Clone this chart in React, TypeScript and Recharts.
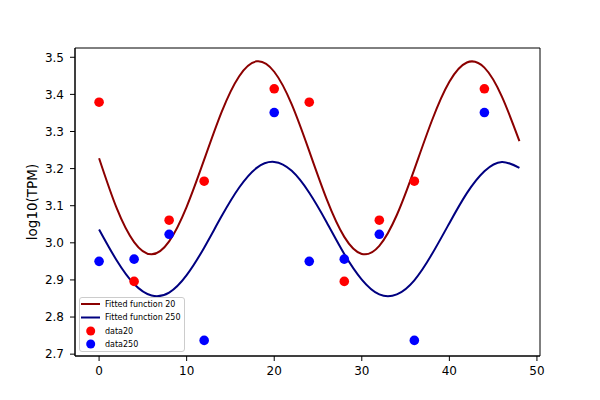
import React from 'react';
import {
  ComposedChart,
  Line,
  Scatter,
  XAxis,
  YAxis,
  Legend,
  ReferenceArea,
} from 'recharts';

// Fitted curve sample positions (x) and values
const curveX = [0, 2, 4, 6, 8, 10, 12, 14, 16, 18, 20, 22, 24, 26, 28, 30, 32, 34, 36, 38, 40, 42, 44, 46, 48];
const fitted20 = [3.228, 3.094, 3.002, 2.969, 3.004, 3.097, 3.224, 3.353, 3.449, 3.489, 3.461, 3.373, 3.247, 3.117, 3.016, 2.970, 2.992, 3.075, 3.198, 3.329, 3.434, 3.486, 3.472, 3.394, 3.274];
const fitted250 = [3.036, 2.953, 2.889, 2.858, 2.866, 2.913, 2.987, 3.072, 3.149, 3.202, 3.218, 3.194, 3.135, 3.055, 2.970, 2.901, 2.861, 2.861, 2.899, 2.969, 3.053, 3.134, 3.193, 3.218, 3.202];

// Scatter data
const dataX = [0, 4, 8, 12, 20, 24, 28, 32, 36, 44];
const data20 = [3.379, 2.896, 3.061, 3.166, 3.415, 3.379, 2.896, 3.061, 3.166, 3.415];
const data250 = [2.950, 2.956, 3.023, 2.737, 3.351, 2.950, 2.956, 3.023, 2.737, 3.351];

const xTicks = [0, 10, 20, 30, 40, 50];
const yTicks = [2.7, 2.8, 2.9, 3.0, 3.1, 3.2, 3.3, 3.4, 3.5];

const X_DOMAIN: [number, number] = [-2.75, 50.35];
const Y_DOMAIN: [number, number] = [2.695, 3.525];

const line20 = curveX.map((x, i) => ({ x, y: fitted20[i] }));
const line250 = curveX.map((x, i) => ({ x, y: fitted250[i] }));
const pts20 = dataX.map((x, i) => ({ x, y: data20[i] }));
const pts250 = dataX.map((x, i) => ({ x, y: data250[i] }));

const FONT = '"DejaVu Sans", sans-serif';

const legendItems = [
  { label: 'Fitted function 20', color: '#8B0000', kind: 'line' },
  { label: 'Fitted function 250', color: '#000080', kind: 'line' },
  { label: 'data20', color: '#FF0000', kind: 'dot' },
  { label: 'data250', color: '#0000FF', kind: 'dot' },
];

const LegendBox = () => {
  const rows = [7, 20.5, 34, 47];
  return (
    <svg width={107} height={56} style={{ display: 'block' }}>
      <rect x={0.5} y={0.5} width={105} height={54} rx={2.5} fill="#fff" fillOpacity={0.8} stroke="#cccccc" strokeWidth={1} />
      {legendItems.map((it, i) => (
        <g key={it.label}>
          {it.kind === 'line' ? (
            <line x1={2} x2={21} y1={rows[i]} y2={rows[i]} stroke={it.color} strokeWidth={2} />
          ) : (
            <circle cx={11.7} cy={rows[i]} r={4.5} fill={it.color} />
          )}
          <text x={26} y={rows[i] + 2.8} fontSize={8} fontFamily={FONT} fill="#000">
            {it.label}
          </text>
        </g>
      ))}
    </svg>
  );
};

const Dot = (color: string) => (props: any) => (
  <circle cx={props.cx} cy={props.cy} r={4.8} fill={color} />
);

export default function App() {
  return (
    <div style={{ position: 'absolute', left: 0, top: 0, width: 600, height: 400, background: '#fff' }}>
      <ComposedChart
        width={600}
        height={400}
        margin={{ top: 48, right: 60, bottom: 14, left: 0 }}
        style={{ fontFamily: FONT }}
      >
        <XAxis
          dataKey="x"
          type="number"
          domain={X_DOMAIN}
          allowDataOverflow
          ticks={xTicks}
          interval={0}
          height={30}
          tickSize={5}
          tickMargin={5}
          stroke="#000"
          tick={{ fill: '#000', fontSize: 12, fontFamily: FONT }}
          axisLine={{ stroke: '#000', strokeWidth: 1 }}
          tickLine={{ stroke: '#000', strokeWidth: 1 }}
        />
        <YAxis
          dataKey="y"
          type="number"
          domain={Y_DOMAIN}
          allowDataOverflow
          ticks={yTicks}
          interval={0}
          width={75}
          tickSize={5}
          tickMargin={6}
          tickFormatter={(v: number) => v.toFixed(1)}
          stroke="#000"
          tick={{ fill: '#000', fontSize: 12, fontFamily: FONT }}
          axisLine={{ stroke: '#000', strokeWidth: 1 }}
          tickLine={{ stroke: '#000', strokeWidth: 1 }}
          label={{
            value: 'log10(TPM)',
            angle: -90,
            position: 'center',
            dx: -5,
            style: { fill: '#000', fontSize: 13.5, fontFamily: FONT },
          }}
        />
        <ReferenceArea
          x1={X_DOMAIN[0]}
          x2={X_DOMAIN[1]}
          y1={Y_DOMAIN[0]}
          y2={Y_DOMAIN[1]}
          fill="none"
          stroke="#000"
          strokeWidth={1}
          ifOverflow="visible"
        />
        <Line
          data={line20}
          dataKey="y"
          type="natural"
          stroke="#8B0000"
          strokeWidth={2}
          dot={false}
          activeDot={false}
          isAnimationActive={false}
          name="Fitted function 20"
        />
        <Line
          data={line250}
          dataKey="y"
          type="natural"
          stroke="#000080"
          strokeWidth={2}
          dot={false}
          activeDot={false}
          isAnimationActive={false}
          name="Fitted function 250"
        />
        <Scatter
          data={pts20}
          dataKey="y"
          fill="#FF0000"
          shape={Dot('#FF0000')}
          isAnimationActive={false}
          name="data20"
        />
        <Scatter
          data={pts250}
          dataKey="y"
          fill="#0000FF"
          shape={Dot('#0000FF')}
          isAnimationActive={false}
          name="data250"
        />
        <Legend
          layout="vertical"
          align="center"
          verticalAlign="middle"
          content={() => <LegendBox />}
          wrapperStyle={{ position: 'absolute', left: 79, top: 297, width: 107, height: 56, bottom: 'auto', right: 'auto' }}
        />
      </ComposedChart>
    </div>
  );
}
